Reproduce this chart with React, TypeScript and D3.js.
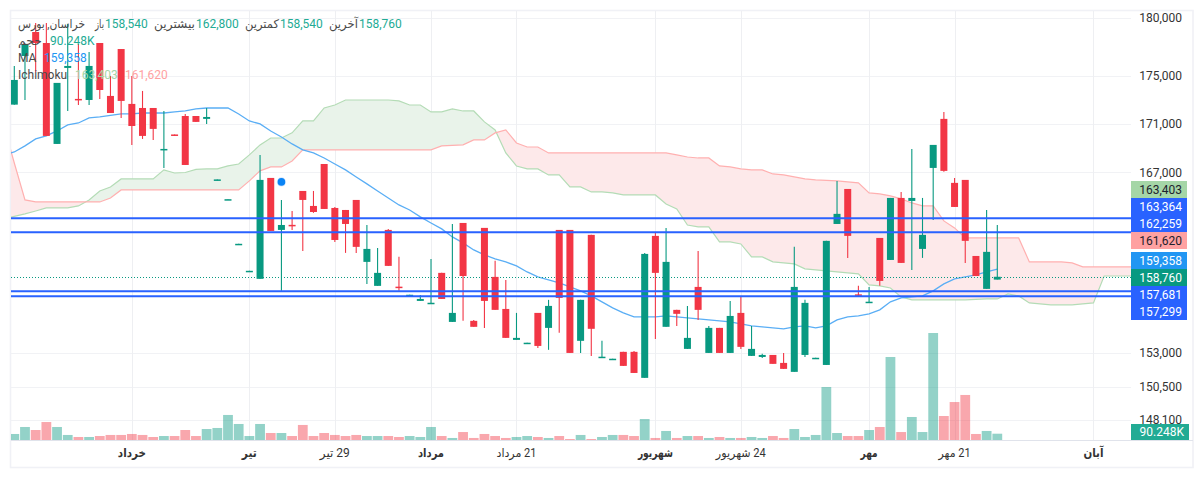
import React from "react";
import * as d3 from "d3";

const opens = [172590,176710,178780,177830,169330,175690,173070,172980,177830,173320,177310,172650,172310,172310,168840,170110,171640,171640,171400,166360,164810,161300,159200,158600,166560,162410,162810,165510,164310,167690,164150,163990,164790,159910,158060,162410,158000,157360,156910,156760,159060,155320,162960,155400,162570,158750,156300,153970,153740,156000,154870,162410,162410,153900,162020,152700,152550,153080,153080,151160,161940,154950,156230,153300,157980,153000,154870,153000,156000,152780,152700,152850,152260,151600,152850,152620,152110,162880,165670,157410,156830,161780,160060,164950,164710,160920,167370,171400,166160,166400,160370,157830,158540];
const highs = [175860,177700,179560,179560,174420,179480,177750,177060,177830,175010,177310,175010,173740,172310,172060,170110,171810,171640,172310,166440,164850,161320,159220,168430,166560,164790,163910,165510,165510,167690,164230,163990,164790,162800,161000,162490,160300,157380,157370,160140,159060,162880,162960,155470,162570,159990,158520,156000,153760,156000,156990,162410,162410,156990,162020,153900,152570,153080,153150,160610,162170,162570,156230,156530,160760,155020,154870,156910,157290,155020,152930,152850,153000,161080,156990,152640,161550,166320,165670,158060,157980,161780,164950,165430,168920,164950,169250,171980,166560,166400,160370,163990,162800];
const lows = [172590,172980,175350,169990,169330,172060,172560,172560,173070,171890,171480,169250,169740,169660,167370,169990,167610,171150,170980,166360,164810,161300,159200,158600,162330,157680,162410,160760,163760,164070,161470,160610,160610,158210,158060,159600,157680,157360,156910,156760,157060,155320,155400,154950,154870,156230,154120,153970,153740,153370,153230,154500,153000,153000,152780,152700,152550,152040,151520,151160,154040,154950,155020,153300,155470,153000,153000,153000,153300,152780,152630,152190,151820,151600,152700,152620,152110,162880,160220,157220,156830,158060,160060,159830,159290,160220,163200,167050,164230,159830,158820,157830,158540];
const closes = [174670,177700,177830,169990,174420,175860,172980,175860,173820,171890,172900,170810,169990,170570,168920,169990,167610,171150,171560,166440,164850,161320,159220,166400,162330,162800,162790,164790,163830,164070,161620,162880,161080,160920,159060,159600,157960,157380,157060,156770,157060,156000,158820,154950,156910,156230,154120,154120,153760,153520,156530,157140,153000,156990,154800,152720,152570,152040,151520,160530,159060,159910,155930,154120,156230,154870,153000,155770,153450,153300,152850,152190,151820,157980,156760,152640,161550,163680,161940,157330,156850,158440,164950,159830,164950,162020,169250,167130,164230,161550,158820,160690,158760];
const volumesK = [86,186,143,257,186,72,43,43,57,72,72,86,72,43,57,57,143,57,157,172,358,229,57,229,100,100,57,215,57,100,72,57,72,57,57,57,43,57,43,186,57,29,114,29,86,57,29,43,57,43,29,57,14,72,14,43,72,72,57,300,29,129,29,57,57,29,43,29,29,43,29,57,29,157,43,72,758,100,57,57,143,186,1187,114,329,114,1530,343,543,644,86,129,90];

// Ichimoku spans and moving average run from one bar before the first candle.
const firstIndex = -1;
const spanA = [163280,163480,163680,163910,164150,164150,164150,164310,164790,165510,165830,166480,166480,166480,166480,167210,166960,167000,167250,167290,167290,167530,167690,168430,169250,169820,169820,170240,171230,171230,172310,172560,172980,172980,172980,172980,172980,172900,172560,172560,171980,171980,172230,172060,172060,171150,170480,168590,167530,167290,167290,166800,166800,165830,165830,165430,165430,165350,165190,165190,165190,165190,164470,164070,162800,162650,162650,161470,161470,161310,160300,160300,159910,159830,159750,159370,159290,159210,159130,159060,158980,158130,158060,157900,157220,156990,156990,156990,156990,156990,156990,157020,157060,157060,157440,157290,156760,156680,156610,156610,156610,156680,156760,158820,158820,158820,158820];
const spanB = [170900,167770,164790,164630,164630,164630,164630,164630,164630,164630,164950,165590,165590,165590,165590,165590,165590,165590,165590,165590,165590,165590,165590,166320,167130,167450,167450,167940,168840,168840,168840,168840,168840,168840,168840,168840,168840,168840,168840,168840,168840,169170,169210,169250,169660,169660,170240,170480,169410,169080,169080,168590,168590,168590,168590,168590,168590,168590,168590,168590,168590,168590,168590,168430,168260,168180,168180,167530,167450,167290,167210,167210,166880,166800,166640,166480,166400,166360,166320,166240,166160,165350,165270,165110,164870,164550,164310,164310,163120,162570,161780,161780,161780,161780,161780,161780,159910,159910,159910,159910,159830,159520,159520,159520,159520,159520,159520];
const movingAverage = [168430,168670,169170,169740,169990,170400,170900,171060,171480,171560,171690,171810,171810,171890,171890,171890,171980,172060,172230,172310,172310,172310,171810,171230,170980,170400,169900,169330,168840,168590,168180,167690,167210,166640,166080,165510,164950,164390,163990,163440,162960,162490,161860,161390,160840,160450,160140,159910,159600,159130,158750,158520,158290,157980,157680,157290,156840,156380,156000,155700,155700,155700,155770,155700,155620,155550,155470,155400,155320,155170,155020,154950,154870,154800,154950,155020,154870,155020,155470,155700,155770,155930,156230,156840,157140,157220,157290,157680,158210,158600,158750,158900,159130,159358];

const priceTicks = [180000, 175000, 171000, 167000, 153000, 150500, 148100];
const priceLines = [163364, 162259, 157681, 157299];
const lastClose = 158760;
const markerBar = 25;
const markerPrice = 166240;

const timeBars = [11, 22, 30, 39, 47, 60, 68, 80, 88, 101];
const timeTexts = ["خرداد", "تیر", "29 تیر", "مرداد", "21 مرداد", "شهریور", "24 شهریور", "مهر", "21 مهر", "آبان"];
const timeBold = [true, true, false, true, false, true, false, true, false, true];
const timeWidths = [28, 15, 30, 26, 40, 35, 50, 17, 32, 20];

const badges = [
  { text: "163,403", bg: "#a5d6a7", fg: "#1e222d", top: 181, bottom: 198 },
  { text: "163,364", bg: "#2962ff", fg: "#ffffff", top: 198, bottom: 215 },
  { text: "162,259", bg: "#2962ff", fg: "#ffffff", top: 215, bottom: 232 },
  { text: "161,620", bg: "#ffa1a1", fg: "#1e222d", top: 232, bottom: 249 },
  { text: "159,358", bg: "#2196f3", fg: "#ffffff", top: 252, bottom: 269 },
  { text: "158,760", bg: "#089981", fg: "#ffffff", top: 269, bottom: 286 },
  { text: "157,681", bg: "#2962ff", fg: "#ffffff", top: 286, bottom: 303 },
  { text: "157,299", bg: "#2962ff", fg: "#ffffff", top: 303, bottom: 320 },
];

const UP = "#089981";
const DOWN = "#f23645";
const FONT = "Roboto, 'DejaVu Sans', sans-serif";
const PANE = { left: 11, right: 1131, top: 11, bottom: 440 };

const legendItems = [
  { x: 18, y: 24, t: "خراسان, بورس", c: "#4a4a4a", rtl: true, w: 67 },
  { x: 95, y: 24, t: "باز", c: "#4a4a4a", w: 9 },
  { x: 105, y: 24, t: "158,540", c: "#22ab94" },
  { x: 154, y: 24, t: "بیشترین", c: "#4a4a4a", w: 41 },
  { x: 196, y: 24, t: "162,800", c: "#22ab94" },
  { x: 245, y: 24, t: "کمترین", c: "#4a4a4a", w: 34 },
  { x: 280, y: 24, t: "158,540", c: "#22ab94" },
  { x: 329, y: 24, t: "آخرین", c: "#4a4a4a", w: 29 },
  { x: 359, y: 24, t: "158,760", c: "#22ab94" },
  { x: 18, y: 41, t: "حجم", c: "#4a4a4a", w: 24 },
  { x: 50, y: 41, t: "90.248K", c: "#22ab94" },
  { x: 18, y: 58, t: "MA", c: "#4a4a4a" },
  { x: 44, y: 58, t: "159,358", c: "#2196f3" },
  { x: 18, y: 75, t: "Ichimoku", c: "#4a4a4a" },
  { x: 75, y: 75, t: "163,403", c: "#a5d6a7" },
  { x: 125, y: 75, t: "161,620", c: "#ffa1a1" },
];

export default function App() {
  const x = d3.scaleLinear().domain([0, 92]).range([14.3, 997.3]);
  const y = d3.scaleLog().domain([180000, 148100]).range([18, 420]);
  const vol = d3.scaleLinear().domain([0, 1530]).range([440, 333]);
  const crisp = (v: number) => Math.round(v) + 0.5;

  const line = d3
    .line<number>()
    .x((_, i) => x(i + firstIndex))
    .y((d) => y(d));
  const cloud = d3
    .area<number>()
    .x((_, i) => x(i + firstIndex))
    .y0((_, i) => y(spanB[i]))
    .y1((d) => y(d));
  const aboveA = d3
    .area<number>()
    .x((_, i) => x(i + firstIndex))
    .y0(0)
    .y1((d) => y(d));

  return (
    <svg
      width={1203}
      height={478}
      style={{ position: "absolute", left: 0, top: 0, background: "#fff", fontFamily: FONT }}
    >
      <defs>
        <clipPath id="pane">
          <rect x={PANE.left} y={PANE.top} width={PANE.right - PANE.left} height={PANE.bottom - PANE.top} />
        </clipPath>
        <clipPath id="aboveA">
          <path d={aboveA(spanA) ?? ""} />
        </clipPath>
        <clipPath id="aboveB">
          <path d={aboveA(spanB) ?? ""} />
        </clipPath>
      </defs>

      <rect x={10.5} y={10.5} width={1182.5} height={457} fill="none" stroke="#f0f1f6" strokeWidth={1.6} />

      {priceTicks.map((p) => (
        <line key={p} x1={PANE.left} x2={PANE.right} y1={crisp(y(p))} y2={crisp(y(p))} stroke="#f1f2f5" strokeWidth={1} />
      ))}
      {timeBars.map((b) => (
        <line key={b} x1={crisp(x(b))} x2={crisp(x(b))} y1={PANE.top} y2={PANE.bottom} stroke="#eeeff2" strokeWidth={1} />
      ))}

      <g clipPath="url(#pane)">
        <g clipPath="url(#aboveB)">
          <path d={cloud(spanA) ?? ""} fill="#e9f3ea" />
        </g>
        <g clipPath="url(#aboveA)">
          <path d={cloud(spanA) ?? ""} fill="#fde9ea" />
        </g>
        <path d={line(spanA) ?? ""} fill="none" stroke="#b4dcb6" strokeWidth={1.2} />
        <path d={line(spanB) ?? ""} fill="none" stroke="#ffb0b0" strokeWidth={1.2} />

        {volumesK.map((v, i) => (
          <rect
            key={i}
            x={x(i) - 4.9}
            width={9.8}
            y={vol(v)}
            height={440 - vol(v)}
            fill={closes[i] >= opens[i] ? UP : DOWN}
            fillOpacity={0.44}
          />
        ))}

        <path d={line(movingAverage) ?? ""} fill="none" stroke="#5aaef5" strokeWidth={1.3} />

        <line
          x1={PANE.left}
          x2={PANE.right}
          y1={277.5}
          y2={277.5}
          stroke={UP}
          strokeWidth={1}
          strokeDasharray="1 2"
        />

        {opens.map((o, i) => {
          const c = closes[i];
          const color = c >= o ? UP : DOWN;
          const top = y(Math.max(o, c));
          const h = Math.max(1.5, y(Math.min(o, c)) - top);
          return (
            <g key={i}>
              <line x1={x(i)} x2={x(i)} y1={y(highs[i])} y2={y(lows[i])} stroke={color} strokeWidth={1.1} />
              <rect x={x(i) - 3.5} width={7} y={top} height={h} fill={color} />
            </g>
          );
        })}

        {priceLines.map((p) => (
          <line key={p} x1={PANE.left} x2={PANE.right} y1={Math.round(y(p)) + 0.2} y2={Math.round(y(p)) + 0.2} stroke="#2962ff" strokeWidth={2} />
        ))}

        <circle cx={x(markerBar)} cy={y(markerPrice)} r={4.6} fill="#bfdcff" fillOpacity={0.7} />
        <circle cx={x(markerBar)} cy={y(markerPrice)} r={3.8} fill="#0a84f5" />
      </g>

      <line x1={PANE.left} x2={1193} y1={440.5} y2={440.5} stroke="#e0e3eb" strokeWidth={1} />

      {priceTicks.map((p) => (
        <text key={p} x={1182} y={y(p)} dy="0.35em" textAnchor="end" fontSize={12} fill="#333">
          {d3.format(",")(p)}
        </text>
      ))}

      {badges.map((b) => (
        <g key={b.text}>
          <rect x={1131} y={b.top} width={56} height={b.bottom - b.top} fill={b.bg} />
          <text x={1182} y={(b.top + b.bottom) / 2} dy="0.35em" textAnchor="end" fontSize={12} fill={b.fg}>
            {b.text}
          </text>
        </g>
      ))}
      <rect x={1131} y={424} width={58} height={16} fill="#22ab94" />
      <text x={1184} y={432} dy="0.35em" textAnchor="end" fontSize={12} fill="#fff">
        90.248K
      </text>

      {timeBars.map((b, i) => (
        <text
          key={b}
          x={x(b)}
          y={453}
          dy="0.35em"
          textAnchor="middle"
          direction="rtl"
          fontSize={12}
          fontWeight={timeBold[i] ? 700 : 400}
          fill="#333"
          textLength={timeWidths[i]}
          lengthAdjust="spacingAndGlyphs"
        >
          {timeTexts[i]}
        </text>
      ))}

      {legendItems.map((l, i) => (
        <text
          key={i}
          x={l.x}
          y={l.y}
          dy="0.35em"
          fontSize={12}
          fill={l.c}
          direction={l.rtl ? "rtl" : "ltr"}
          textAnchor={l.rtl ? "end" : "start"}
          textLength={l.w}
          lengthAdjust={l.w ? "spacingAndGlyphs" : undefined}
        >
          {l.t}
        </text>
      ))}
    </svg>
  );
}
